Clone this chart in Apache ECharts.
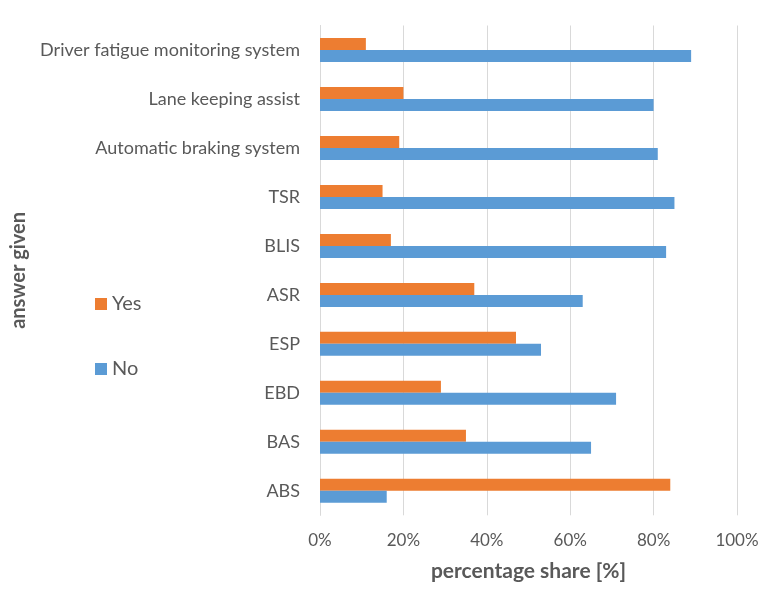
<!DOCTYPE html>
<html>
<head>
<meta charset="utf-8">
<script src="https://cdn.jsdelivr.net/npm/echarts@6/dist/echarts.min.js"></script>
<style>
  html, body { margin: 0; padding: 0; background: #ffffff; }
  #chart { width: 779px; height: 591px; }
</style>
</head>
<body>
<div id="chart"></div>
<script>
// Driver assistance systems, listed bottom to top
const categories = ['ABS', 'BAS', 'EBD', 'ESP', 'ASR', 'BLIS', 'TSR',
  'Automatic braking system', 'Lane keeping assist', 'Driver fatigue monitoring system'];
// Share of answers in percent
const yesValues = [84, 35, 29, 47, 37, 17, 15, 19, 20, 11];
const noValues = [16, 65, 71, 53, 63, 83, 85, 81, 80, 89];
const xTicks = [0, 20, 40, 60, 80, 100];

const FONT = 'Lato, "Liberation Sans", sans-serif';
const TEXT = '#595959';

const chart = echarts.init(document.getElementById('chart'));
chart.setOption({
  animation: false,
  textStyle: { fontFamily: FONT, color: TEXT },
  grid: { left: 320, right: 42, top: 25.5, bottom: 75.7, containLabel: false },
  legend: {
    data: ['Yes', 'No'],
    orient: 'vertical',
    left: 90,
    top: 289,
    icon: 'rect',
    itemWidth: 12,
    itemHeight: 12,
    itemGap: 45,
    textStyle: { fontFamily: FONT, color: TEXT, fontSize: 20 }
  },
  xAxis: {
    type: 'value',
    min: xTicks[0],
    max: xTicks[xTicks.length - 1],
    interval: 20,
    name: 'percentage share [%]',
    nameLocation: 'middle',
    nameGap: 45,
    nameTextStyle: { fontFamily: FONT, color: TEXT, fontSize: 21, fontWeight: 'bold' },
    axisLine: { show: false },
    axisTick: { show: false },
    axisLabel: { formatter: '{value}%', color: TEXT, fontSize: 17, margin: 17, fontFamily: FONT },
    splitLine: { show: true, lineStyle: { color: '#d9d9d9', width: 1 } }
  },
  yAxis: {
    type: 'category',
    data: categories,
    name: 'answer given',
    nameLocation: 'middle',
    nameRotate: 90,
    nameGap: 291,
    nameTextStyle: { fontFamily: FONT, color: TEXT, fontSize: 20, fontWeight: 'bold' },
    axisLine: { show: true, lineStyle: { color: '#d9d9d9' } },
    axisTick: { show: false },
    axisLabel: { color: TEXT, fontSize: 18, margin: 20, fontFamily: FONT }
  },
  series: [
    {
      name: 'Yes',
      type: 'bar',
      data: yesValues,
      barWidth: 12,
      barGap: '0%',
      itemStyle: { color: '#ED7D31' }
    },
    {
      name: 'No',
      type: 'bar',
      data: noValues,
      barWidth: 12,
      barGap: '0%',
      itemStyle: { color: '#5B9BD5' }
    }
  ]
});
</script>
</body>
</html>
